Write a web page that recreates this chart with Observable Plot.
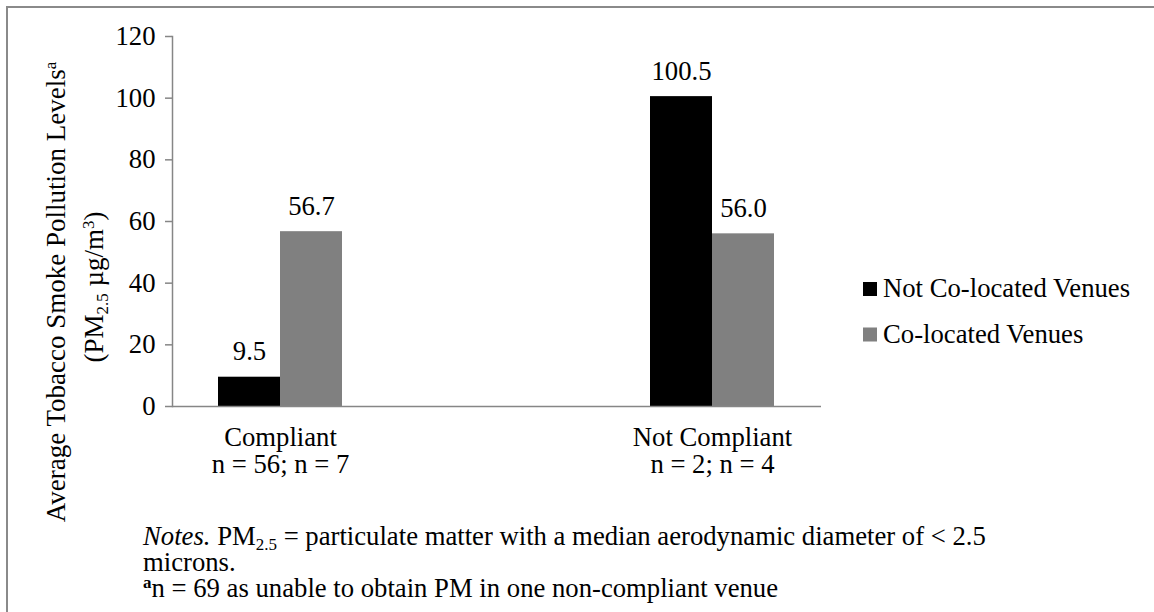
<!DOCTYPE html>
<html><head><meta charset="utf-8">
<script src="https://cdn.jsdelivr.net/npm/d3@7"></script>
<script src="https://cdn.jsdelivr.net/npm/@observablehq/plot@0.6"></script>
<style>
body{margin:0;background:#fff;}
#wrap{position:relative;width:1154px;height:612px;overflow:hidden;background:#fff;}
#border{position:absolute;left:6px;top:6px;width:1300px;height:800px;border-left:2px solid #8a8a8a;border-top:2px solid #8a8a8a;}
#chart{position:absolute;left:0;top:0;}
svg text{white-space:pre;}
</style></head><body>
<div id="wrap"><div id="border"></div><div id="chart"></div></div>
<script>
const categories = ["Compliant", "Not Compliant"];
const categorySizes = ["n = 56; n = 7", "n = 2; n = 4"];
const series = ["Not Co-located Venues", "Co-located Venues"];
const notColocated = [9.5, 100.5];
const colocated = [56.7, 56.0];
const yTicks = [0, 20, 40, 60, 80, 100, 120];
const seriesColors = ["#000000", "#808080"];

const data = categories.flatMap((c, i) => [
  {category: c, series: series[0], value: notColocated[i]},
  {category: c, series: series[1], value: colocated[i]}
]);

const FONT = "'Liberation Serif', 'Times New Roman', serif";
const FS = 26.7;
const AXIS = "#868686";
const barW = 62, half = 216;

const plot = Plot.plot({
  width: 1154,
  height: 612,
  marginLeft: 172,
  marginRight: 333,
  marginTop: 36,
  marginBottom: 206,
  style: {fontFamily: FONT, fontSize: FS + "px", color: "#000", background: "transparent"},
  x: {type: "band", domain: categories, range: [64, 928], padding: 0},
  y: {domain: [0, 120]},
  color: {domain: series, range: seriesColors},
  marks: [
    Plot.barY(data.filter(d => d.series === series[0]), {x: "category", y: "value", fill: "series", insetLeft: half - barW, insetRight: half}),
    Plot.barY(data.filter(d => d.series === series[1]), {x: "category", y: "value", fill: "series", insetLeft: half, insetRight: half - barW}),
    Plot.text(data.filter(d => d.series === series[0]), {x: "category", y: "value", text: d => d.value.toFixed(1), dx: -barW / 2, dy: -17, lineAnchor: "bottom", fill: "#000", fontFamily: FONT, fontSize: FS}),
    Plot.text(data.filter(d => d.series === series[1]), {x: "category", y: "value", text: d => d.value.toFixed(1), dx: barW / 2, dy: -17, lineAnchor: "bottom", fill: "#000", fontFamily: FONT, fontSize: FS}),
    Plot.frame({anchor: "left", stroke: AXIS, strokeWidth: 1.5}),
    Plot.ruleY([0], {stroke: AXIS, strokeWidth: 1.5}),
    Plot.axisY({ticks: yTicks, tickSize: 7, tickPadding: 10, stroke: AXIS, strokeWidth: 1.5, label: null, fontFamily: FONT, fontSize: FS, tickFormat: d => String(d)}),
    Plot.axisX({tickSize: 0, tickPadding: 21, label: null, lineHeight: 1, fontFamily: FONT, fontSize: FS,
      tickFormat: d => d + "\n" + categorySizes[categories.indexOf(d)]})
  ]
});

document.getElementById("chart").appendChild(plot);
const svg = d3.select(plot);

// Y axis title (two lines, rotated)
const yt = svg.append("g").attr("font-family", FONT).attr("font-size", 27).attr("fill", "#000").attr("text-anchor", "middle");
const l1 = yt.append("text").attr("transform", "translate(65,292) rotate(-90)");
l1.append("tspan").text("Average Tobacco Smoke Pollution Levels");
l1.append("tspan").attr("font-size", 17).attr("dy", -9).text("a");
const l2 = yt.append("text").attr("transform", "translate(103,287) rotate(-90)");
l2.append("tspan").text("(PM");
l2.append("tspan").attr("font-size", 17).attr("dy", 5).text("2.5");
l2.append("tspan").attr("dy", -5).text(" µg/m");
l2.append("tspan").attr("font-size", 17).attr("dy", -9).text("3");
l2.append("tspan").attr("dy", 9).text(")");

// Legend
const color = plot.scale("color");
const lg = svg.append("g").attr("font-family", FONT).attr("font-size", FS).attr("fill", "#000").attr("text-anchor", "start");
series.forEach((s, i) => {
  const cy = 289 + i * 45.5;
  lg.append("rect").attr("x", 863).attr("y", cy - 7).attr("width", 14).attr("height", 14).attr("fill", color.apply(s));
  lg.append("text").attr("x", 883).attr("y", cy + 8).text(s);
});

// Notes
const nt = svg.append("g").attr("font-family", FONT).attr("font-size", FS).attr("fill", "#000").attr("text-anchor", "start");
const n1 = nt.append("text").attr("x", 143).attr("y", 545);
n1.append("tspan").attr("font-style", "italic").text("Notes.");
n1.append("tspan").text(" PM");
n1.append("tspan").attr("font-size", 17).attr("dy", 5).text("2.5");
n1.append("tspan").attr("dy", -5).text(" = particulate matter with a median aerodynamic diameter of < 2.5");
nt.append("text").attr("x", 143).attr("y", 571).text("microns.");
const n3 = nt.append("text").attr("x", 143).attr("y", 597);
n3.append("tspan").attr("font-size", 17).attr("font-weight", "bold").attr("dy", -9).text("a");
n3.append("tspan").attr("dy", 9).text("n = 69 as unable to obtain PM in one non-compliant venue");
</script>
</body></html>
